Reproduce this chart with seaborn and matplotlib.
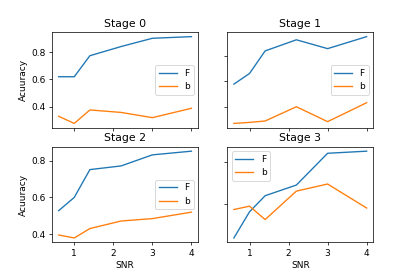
import matplotlib
matplotlib.use("Agg")
import matplotlib.pyplot as plt
import seaborn as sns

# SNR points shared by all stages
snr = [0.6, 1.0, 1.4, 2.2, 3.0, 4.0]

# accuracy for F and b, one pair per stage
f_stage0 = [0.62, 0.62, 0.773, 0.84, 0.90, 0.912]
b_stage0 = [0.332, 0.28, 0.378, 0.36, 0.322, 0.39]

f_stage1 = [0.579, 0.663, 0.842, 0.93, 0.86, 0.955]
b_stage1 = [0.268, 0.276, 0.287, 0.40, 0.282, 0.432]

f_stage2 = [0.528, 0.60, 0.751, 0.771, 0.831, 0.851]
b_stage2 = [0.396, 0.38, 0.431, 0.472, 0.485, 0.52]

f_stage3 = [0.438, 0.563, 0.64, 0.691, 0.843, 0.853]
b_stage3 = [0.574, 0.59, 0.526, 0.662, 0.696, 0.581]

titles = ["Stage 0", "Stage 1", "Stage 2", "Stage 3"]
f_all = [f_stage0, f_stage1, f_stage2, f_stage3]
b_all = [b_stage0, b_stage1, b_stage2, b_stage3]
legend_loc = ["center right", "center right", "center right", "upper left"]

fig, axs = plt.subplots(2, 2, sharex=True, figsize=(415 / 65, 277 / 65), dpi=65)
fig.subplots_adjust(left=0.1253, right=0.8995, top=0.8834, bottom=0.1253,
                    hspace=0.2, wspace=0.2)

for i, ax in enumerate(axs.flat):
    sns.lineplot(x=snr, y=f_all[i], label="F", ax=ax)
    sns.lineplot(x=snr, y=b_all[i], label="b", ax=ax)
    ax.set_title(titles[i])
    ax.set(xlabel="SNR", ylabel="Acuuracy")
    ax.yaxis.set_major_locator(plt.MaxNLocator(4, steps=[1, 2, 2.5, 5, 10]))
    ax.legend(loc=legend_loc[i])
    ax.label_outer()
    if i % 2 == 1:
        ax.tick_params(labelleft=False)
        ax.set_ylabel("")

fig.savefig("out.png", dpi=65)
